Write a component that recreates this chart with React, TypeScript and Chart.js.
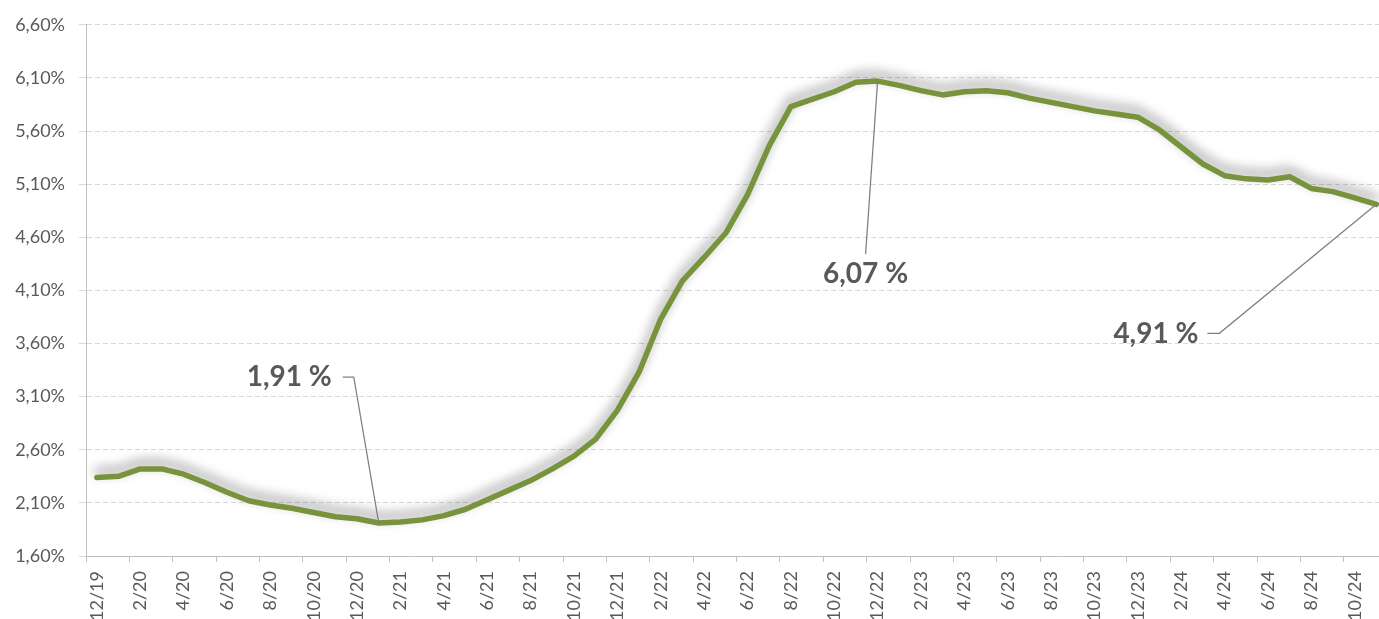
import React, { useEffect, useRef } from 'react';
import { Chart, registerables } from 'chart.js';

Chart.register(...registerables);

const categories = [
  '12/19',
  '1/20', '2/20', '3/20', '4/20', '5/20', '6/20', '7/20', '8/20', '9/20', '10/20', '11/20', '12/20',
  '1/21', '2/21', '3/21', '4/21', '5/21', '6/21', '7/21', '8/21', '9/21', '10/21', '11/21', '12/21',
  '1/22', '2/22', '3/22', '4/22', '5/22', '6/22', '7/22', '8/22', '9/22', '10/22', '11/22', '12/22',
  '1/23', '2/23', '3/23', '4/23', '5/23', '6/23', '7/23', '8/23', '9/23', '10/23', '11/23', '12/23',
  '1/24', '2/24', '3/24', '4/24', '5/24', '6/24', '7/24', '8/24', '9/24', '10/24', '11/24',
];

const rateValues = [
  2.34,
  2.35, 2.42, 2.42, 2.37, 2.29, 2.20, 2.12, 2.08, 2.05, 2.01, 1.97, 1.95,
  1.91, 1.92, 1.94, 1.98, 2.04, 2.13, 2.22, 2.31, 2.42, 2.54, 2.70, 2.97,
  3.33, 3.83, 4.19, 4.41, 4.64, 5.00, 5.46, 5.83, 5.90, 5.97, 6.06, 6.07,
  6.03, 5.98, 5.94, 5.97, 5.98, 5.96, 5.91, 5.87, 5.83, 5.79, 5.76, 5.73,
  5.61, 5.45, 5.29, 5.18, 5.15, 5.14, 5.17, 5.06, 5.03, 4.97, 4.91,
];

const yTickValues = [1.6, 2.1, 2.6, 3.1, 3.6, 4.1, 4.6, 5.1, 5.6, 6.1, 6.6];

const calloutIndices = [13, 36, 59];
const calloutTexts = ['1,91 %', '6,07 %', '4,91 %'];

const FONT = 'Lato, "Open Sans", sans-serif';
const TEXT_GRAY = '#595959';

const fmtPct = (v: number) => v.toFixed(2).replace('.', ',') + '%';

const lineShadow = {
  id: 'lineShadow',
  beforeDatasetsDraw(chart: any) {
    const c = chart.ctx;
    c.save();
    c.shadowColor = 'rgba(0,0,0,0.45)';
    c.shadowBlur = 12;
    c.shadowOffsetX = 0;
    c.shadowOffsetY = -6;
  },
  afterDatasetsDraw(chart: any) {
    chart.ctx.restore();
  },
};

// offsets (px) of leader elbow / text relative to the labelled point
const calloutLayout = [
  { ex: -25, ey: -146, hx: -36, tx: -47, ty: -146, align: 'right' },
  { ex: -12, ey: 173, hx: null, tx: -12, ty: 193, align: 'center' },
  { ex: -157, ey: 129, hx: -169, tx: -178, ty: 130, align: 'right' },
];

const callouts = {
  id: 'callouts',
  afterDraw(chart: any) {
    const ctx = chart.ctx;
    const xs = chart.scales.x;
    const ys = chart.scales.y;
    calloutIndices.forEach((idx, k) => {
      const px = xs.getPixelForValue(idx);
      const py = ys.getPixelForValue(rateValues[idx]);
      const L = calloutLayout[k];
      ctx.save();
      ctx.strokeStyle = '#7F7F7F';
      ctx.lineWidth = 1.25;
      ctx.beginPath();
      ctx.moveTo(px, py);
      ctx.lineTo(px + L.ex, py + L.ey);
      if (L.hx !== null) ctx.lineTo(px + (L.hx as number), py + L.ey);
      ctx.stroke();
      ctx.fillStyle = TEXT_GRAY;
      ctx.font = 'bold 28px ' + FONT;
      ctx.textAlign = L.align;
      ctx.textBaseline = 'middle';
      ctx.fillText(calloutTexts[k], px + L.tx, py + L.ty);
      ctx.restore();
    });
  },
};

export default function App() {
  const ref = useRef<HTMLCanvasElement>(null);

  useEffect(() => {
    if (!ref.current) return;
    const chart = new Chart(ref.current, {
      type: 'line',
      data: {
        labels: categories,
        datasets: [
          {
            data: rateValues,
            borderColor: '#77933C',
            borderWidth: 5.5,
            borderJoinStyle: 'round',
            borderCapStyle: 'round',
            pointRadius: 0,
            tension: 0,
            fill: false,
          },
        ],
      },
      options: {
        animation: false,
        responsive: false,
        layout: { padding: { top: 23, right: 0, bottom: 0, left: 0 } },
        plugins: { legend: { display: false }, tooltip: { enabled: false } },
        scales: {
          x: {
            type: 'category',
            offset: true,
            grid: {
              offset: true,
              drawOnChartArea: false,
              drawTicks: true,
              tickLength: 6,
              lineWidth: 1,
              color: (c: any) => (c.index % 2 === 0 ? '#BFBFBF' : 'rgba(0,0,0,0)'),
              tickColor: (c: any) => (c.index % 2 === 0 ? '#BFBFBF' : 'rgba(0,0,0,0)'),
            },
            border: { display: true, color: '#BFBFBF', width: 1 },
            ticks: {
              autoSkip: false,
              maxRotation: 90,
              minRotation: 90,
              padding: 9,
              color: TEXT_GRAY,
              font: { family: FONT, size: 18 },
              callback: (_v: any, i: number) => (i % 2 === 0 ? categories[i] : ''),
            },
            afterFit: (s: any) => {
              s.height = 63;
            },
          },
          y: {
            min: 1.6,
            max: 6.6,
            afterBuildTicks: (s: any) => {
              s.ticks = yTickValues.map((v) => ({ value: v }));
            },
            grid: {
              lineWidth: 1,
              tickLength: 7,
              color: (c: any) => (c.index === 0 ? 'rgba(0,0,0,0)' : '#D9D9D9'),
              tickColor: '#D9D9D9',
            },
            border: { display: true, color: '#BFBFBF', width: 1, dash: [5, 3] },
            ticks: {
              padding: 14,
              color: TEXT_GRAY,
              font: { family: FONT, size: 18 },
              callback: (v: any) => fmtPct(Number(v)),
            },
            afterFit: (s: any) => {
              s.width = 86;
            },
          },
        },
      },
      plugins: [lineShadow, callouts],
    } as any);
    return () => chart.destroy();
  }, []);

  return (
    <div
      style={{
        position: 'absolute',
        left: 0,
        top: 0,
        width: 1379,
        height: 619,
        overflow: 'hidden',
        background: '#fff',
      }}
    >
      <canvas ref={ref} width={1407} height={619} style={{ display: 'block' }} />
    </div>
  );
}
